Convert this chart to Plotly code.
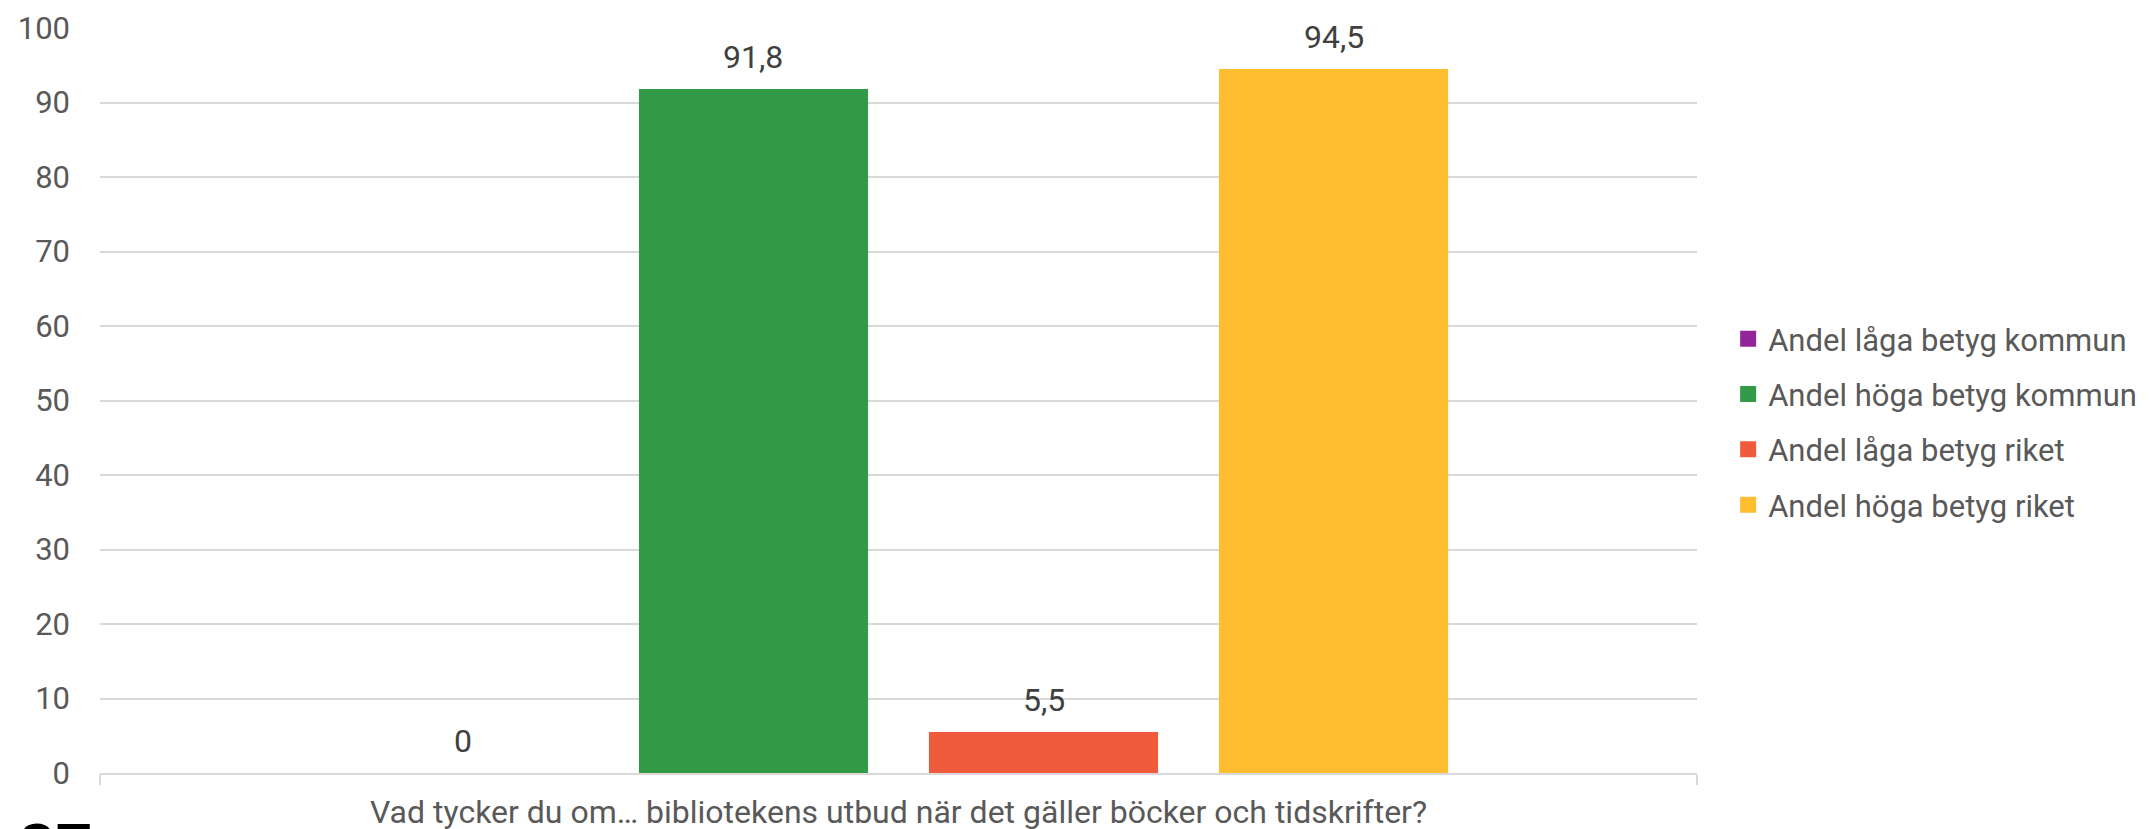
import plotly.graph_objects as go

categories = ["Vad tycker du om… bibliotekens utbud när det gäller böcker och tidskrifter?"]
series_names = ["Andel låga betyg kommun", "Andel höga betyg kommun", "Andel låga betyg riket", "Andel höga betyg riket"]
series_values = [[0], [91.8], [5.5], [94.5]]
series_labels = [["0"], ["91,8"], ["5,5"], ["94,5"]]
colors = ["#902697", "#339b48", "#ef5b3c", "#febe2f"]
y_ticks = [0, 10, 20, 30, 40, 50, 60, 70, 80, 90, 100]

W, H = 2141, 821
ML, MR, MT, MB = 92, 452, 20, 56
BARGAP, GROUPGAP = 0.2736, 0.21
plot_w = W - ML - MR

fig = go.Figure()
n = len(series_names)
slot = (1 - BARGAP) / n
for i, (name, vals, labs, col) in enumerate(zip(series_names, series_values, series_labels, colors)):
    fig.add_trace(go.Bar(
        x=categories, y=vals, name=name, marker=dict(color=col, line=dict(width=0)),
        showlegend=False, hoverinfo="x+y+name",
    ))
    # legend entry with a larger square swatch
    fig.add_trace(go.Scatter(
        x=[None], y=[None], mode="markers", name=name, legendgroup=name,
        marker=dict(symbol="square", size=18, color=col), showlegend=True,
    ))
    offset_px = (-(1 - BARGAP) / 2 + slot * (i + 0.5)) * plot_w
    for c, v, t in zip(categories, vals, labs):
        fig.add_annotation(x=c, y=v, xref="x", yref="y", text=t, showarrow=False,
                           xshift=offset_px, yanchor="bottom", yshift=11,
                           font=dict(family="Roboto", size=32, color="#404040"))

# cut-off text fragment at bottom-left corner of the source image
fig.add_annotation(x=-0.052, y=0, xref="paper", yref="paper", xanchor="left", yanchor="top",
                   yshift=-36, text="<b>37</b>", showarrow=False,
                   font=dict(family="Roboto", size=64, color="#000000"))

fig.update_layout(
    width=W, height=H,
    margin=dict(l=ML, r=MR, t=MT, b=MB, autoexpand=False),
    paper_bgcolor="white", plot_bgcolor="white",
    barmode="group", bargap=BARGAP, bargroupgap=GROUPGAP,
    font=dict(family="Roboto", size=31, color="#595959"),
    showlegend=True,
    legend=dict(x=1.0195, xanchor="left", y=0.471, yanchor="middle",
                font=dict(family="Roboto", size=31, color="#595959"),
                tracegroupgap=12, itemwidth=30, bgcolor="rgba(0,0,0,0)"),
)
fig.update_yaxes(range=[0, 100], tickvals=y_ticks, showgrid=True, gridcolor="#d9d9d9", gridwidth=2,
                 zeroline=False, showline=False, ticks="", ticklabelstandoff=29, automargin=False,
                 tickfont=dict(family="Roboto", size=31, color="#595959"))
fig.update_xaxes(range=[-0.5, 0.5], showline=True, linecolor="#d9d9d9", linewidth=2, automargin=False,
                 ticks="outside", tickson="boundaries", ticklen=10, tickcolor="#d9d9d9", tickwidth=2,
                 tickfont=dict(family="Roboto", size=32, color="#595959"), ticklabelstandoff=10)

fig.write_html("out.html")
